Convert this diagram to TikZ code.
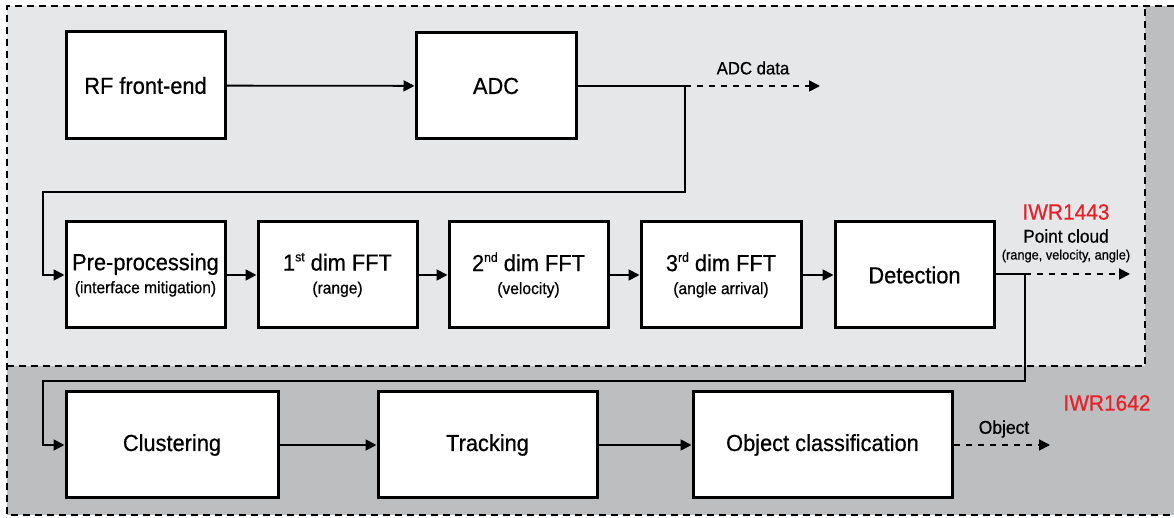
\documentclass[tikz,border=0pt]{standalone}
\usepackage{fontspec}
\setmainfont{Liberation Sans}[FakeStretch=0.94,FakeBold=0.6]
\usetikzlibrary{arrows.meta}
\definecolor{lightbg}{HTML}{E6E7E9}
\definecolor{darkbg}{HTML}{BDBEC0}
\definecolor{iwrred}{HTML}{E8202A}
\tikzset{
  blk/.style={draw=black, line width=1.5pt, fill=white, align=center, inner sep=0pt, font=\fontsize{11.6}{13}\selectfont},
  conn/.style={line width=0.9pt, -{Triangle[length=5.5pt,width=5.5pt]}},
  plain/.style={line width=0.9pt},
  dconn/.style={line width=0.9pt, dash pattern=on 3pt off 3pt, -{Triangle[length=5.5pt,width=5.5pt]}},
  border/.style={line width=1pt, dash pattern=on 3.5pt off 2.5pt},
  lab/.style={font=\fontsize{8.9}{10}\selectfont, inner sep=0pt},
}
\newcommand{\boxtext}[2]{#1\\[-1.5pt]{\fontsize{8.3}{9.5}\selectfont #2}}
\newcommand{\supx}[1]{\raisebox{0.75ex}{\fontsize{6.5}{7}\selectfont #1}}
\begin{document}
\begin{tikzpicture}[x=0.5pt,y=-0.5pt]
\useasboundingbox (0,0) rectangle (1174,518);
% backgrounds
\fill[darkbg] (7,6) rectangle (1174,515);
\fill[lightbg] (7,6) rectangle (1145,366);
\draw[border] (1174,6) -- (7,6) -- (7,515) -- (1174,515);
\draw[border] (7,366) -- (1145,366) -- (1145,6);

% row 1
\node[blk, minimum width=79.5pt, minimum height=53.5pt] (rf) at (145.5,85.5) {RF front-end};
\node[blk, minimum width=80pt, minimum height=53pt] (adc) at (496,86) {ADC};
% row 2
\node[blk, minimum width=79.5pt, minimum height=53pt] (pre) at (145.5,275) {\boxtext{Pre-processing}{(interface mitigation)}};
\node[blk, minimum width=79.5pt, minimum height=53pt] (f1) at (337.5,275) {\boxtext{1\supx{st} dim FFT}{(range)}};
\node[blk, minimum width=79.5pt, minimum height=53pt] (f2) at (528.5,275) {\boxtext{2\supx{nd} dim FFT}{(velocity)}};
\node[blk, minimum width=80pt, minimum height=53pt] (f3) at (721,275) {\boxtext{3\supx{rd} dim FFT}{(angle arrival)}};
\node[blk, minimum width=79.5pt, minimum height=53pt] (det) at (914.5,275) {Detection};
% row 3
\node[blk, minimum width=106pt, minimum height=53pt] (clu) at (172,445) {Clustering};
\node[blk, minimum width=109.5pt, minimum height=53pt] (trk) at (487.5,445) {Tracking};
\node[blk, minimum width=129.5pt, minimum height=53pt] (obj) at (822.5,445) {Object classification};

% junction coordinates
\coordinate (j1) at (685,86);
\coordinate (e1) at (820,86);
\coordinate (k1) at (685,192);
\coordinate (k2) at (43,192);
\coordinate (j2) at (1025,274);
\coordinate (e2) at (1130,274);
\coordinate (m1) at (1025,381);
\coordinate (m2) at (43,381);
\coordinate (e3) at (1050,445);

% connectors
\draw[conn] (rf) -- (adc);
\draw[plain] (adc.east) -- (j1);
\draw[dconn] (j1) -- (e1);
\draw[conn] (j1) -- (k1) -- (k2) -- (k2 |- pre.west) -- (pre.west);
\draw[conn] (pre) -- (f1);
\draw[conn] (f1) -- (f2);
\draw[conn] (f2) -- (f3);
\draw[conn] (f3) -- (det);
\draw[plain] (det.east |- j2) -- (j2);
\draw[dconn] (j2) -- (e2);
\draw[conn] (j2) -- (m1) -- (m2) -- (m2 |- clu.west) -- (clu.west);
\draw[conn] (clu) -- (trk);
\draw[conn] (trk) -- (obj);
\draw[dconn] (obj.east) -- (e3);

% labels
\node[lab] (adcl) at (753,68) {ADC data};
\node[lab, font=\fontsize{9.3}{10}\selectfont] (objl) at (1004,429) {Object};
\node[lab, text=iwrred, font=\fontsize{11.1}{12}\selectfont] (iwr1) at (1066,212) {IWR1443};
\node[lab, font=\fontsize{9.2}{10}\selectfont] (pc) at (1066,236) {Point cloud};
\node[lab, font=\fontsize{6.8}{8}\selectfont] (pcs) at (1066,256) {(range, velocity, angle)};
\node[lab, text=iwrred, font=\fontsize{11.1}{12}\selectfont] (iwr2) at (1107,403) {IWR1642};
\end{tikzpicture}
\end{document}
